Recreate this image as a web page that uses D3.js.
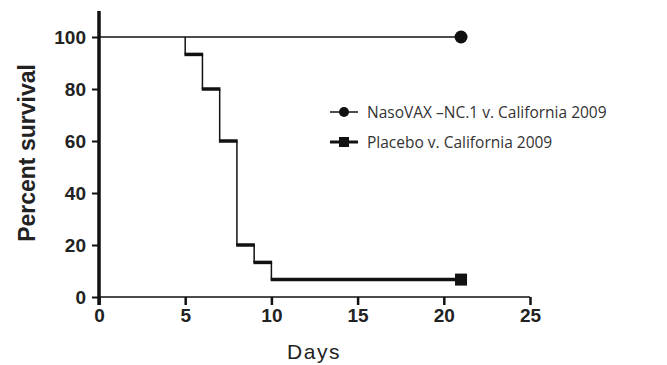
<!DOCTYPE html>
<html>
<head>
<meta charset="utf-8">
<script src="https://cdn.jsdelivr.net/npm/d3@7"></script>
<style>
  body { margin: 0; background: #fff; }
  svg { display: block; }
  .tick text { font-family: "Liberation Sans", Arial, sans-serif; font-weight: bold; font-size: 19px; fill: #222; }
  .legend text { font-family: "Open Sans", sans-serif; font-size: 15.5px; fill: #333; }
</style>
</head>
<body>
<svg id="chart" width="667" height="365"></svg>
<script>
// survival curves
const days = [0, 5, 6, 7, 8, 9, 10, 21];
const placebo = [100, 93.3, 80, 60, 20, 13.3, 6.7, 6.7];
const nasoDays = [0, 21];
const naso = [100, 100];

const xTicks = [0, 5, 10, 15, 20, 25];
const yTicks = [0, 20, 40, 60, 80, 100];
const seriesNames = ["NasoVAX \u2013NC.1 v. California 2009", "Placebo v. California 2009"];

const svg = d3.select("#chart");

const x = d3.scaleLinear().domain([0, 25]).range([99, 530]);
const y = d3.scaleLinear().domain([0, 100]).range([297, 37]);

// axes
let xAxis = svg.append("g")
    .attr("transform", `translate(0,${y(0)})`)
    .call(d3.axisBottom(x).tickValues(xTicks).tickSize(8).tickPadding(4));
xAxis.select(".domain").remove();
xAxis.selectAll(".tick line").attr("stroke", "#111").attr("stroke-width", 2.5);

let yAxis = svg.append("g")
    .attr("transform", `translate(${x(0)},0)`)
    .call(d3.axisLeft(y).tickValues(yTicks).tickSize(7).tickPadding(6));
yAxis.select(".domain").remove();
yAxis.selectAll(".tick line").attr("stroke", "#111").attr("stroke-width", 2);
yAxis.selectAll(".tick text").attr("dy", "0.36em");

svg.append("line")
    .attr("x1", x(0)).attr("x2", x(25))
    .attr("y1", y(0)).attr("y2", y(0))
    .attr("stroke", "#111").attr("stroke-width", 1.5);

svg.append("line")
    .attr("x1", x(0)).attr("x2", x(0))
    .attr("y1", y(110)).attr("y2", y(0) + 8)
    .attr("stroke", "#111").attr("stroke-width", 3.5);

// axis titles
svg.append("text")
    .attr("transform", "translate(35,153) rotate(-90)")
    .attr("text-anchor", "middle")
    .style("font-family", "Liberation Sans, Arial, sans-serif")
    .style("font-weight", "bold")
    .style("font-size", "23px")
    .style("fill", "#222")
    .text("Percent survival");

svg.append("text")
    .attr("x", 314).attr("y", 359)
    .attr("text-anchor", "middle")
    .style("font-family", "Liberation Sans, Arial, sans-serif")
    .style("font-size", "21px")
    .style("letter-spacing", "1.5px")
    .style("fill", "#222")
    .text("Days");

// NasoVAX line
svg.append("path")
    .attr("d", d3.line().x((d, i) => x(nasoDays[i])).y(d => y(d))(naso))
    .attr("fill", "none").attr("stroke", "#111").attr("stroke-width", 1.5);

// placebo step: thin verticals, thick horizontals
const steps = days.slice(0, -1).map((d, i) => ({ x0: d, x1: days[i + 1], v: placebo[i], next: placebo[i + 1] }));

svg.append("g").selectAll("line")
    .data(steps.filter(s => s.v !== s.next))
    .join("line")
    .attr("x1", s => x(s.x1)).attr("x2", s => x(s.x1))
    .attr("y1", s => y(s.v)).attr("y2", s => y(s.next))
    .attr("stroke", "#111").attr("stroke-width", 1.5);

svg.append("g").selectAll("line")
    .data(steps.filter(s => s.v < 100))
    .join("line")
    .attr("x1", s => x(s.x0) - 0.75).attr("x2", s => x(s.x1) + 0.75)
    .attr("y1", s => y(s.v)).attr("y2", s => y(s.v))
    .attr("stroke", "#111").attr("stroke-width", 3.5);

// end markers
svg.append("circle")
    .attr("cx", x(nasoDays[1])).attr("cy", y(naso[1])).attr("r", 6.5)
    .attr("fill", "#111");
svg.append("rect")
    .attr("x", x(days[days.length - 1]) - 6).attr("y", y(placebo[placebo.length - 1]) - 6)
    .attr("width", 12).attr("height", 12)
    .attr("fill", "#111");

// legend
const legend = svg.append("g").attr("class", "legend");
const rows = legend.selectAll("g")
    .data(seriesNames)
    .join("g")
    .attr("transform", (d, i) => `translate(330,${112 + i * 30})`);
rows.append("line")
    .attr("x1", 0).attr("x2", 28)
    .attr("stroke", "#111").attr("stroke-width", (d, i) => i === 0 ? 1.5 : 3);
rows.filter((d, i) => i === 0).append("circle")
    .attr("cx", 14).attr("r", 5).attr("fill", "#111");
rows.filter((d, i) => i === 1).append("rect")
    .attr("x", 9).attr("y", -5).attr("width", 10).attr("height", 10).attr("fill", "#111");
rows.append("text")
    .attr("x", 37).attr("dy", "0.36em")
    .text(d => d);
</script>
</body>
</html>
